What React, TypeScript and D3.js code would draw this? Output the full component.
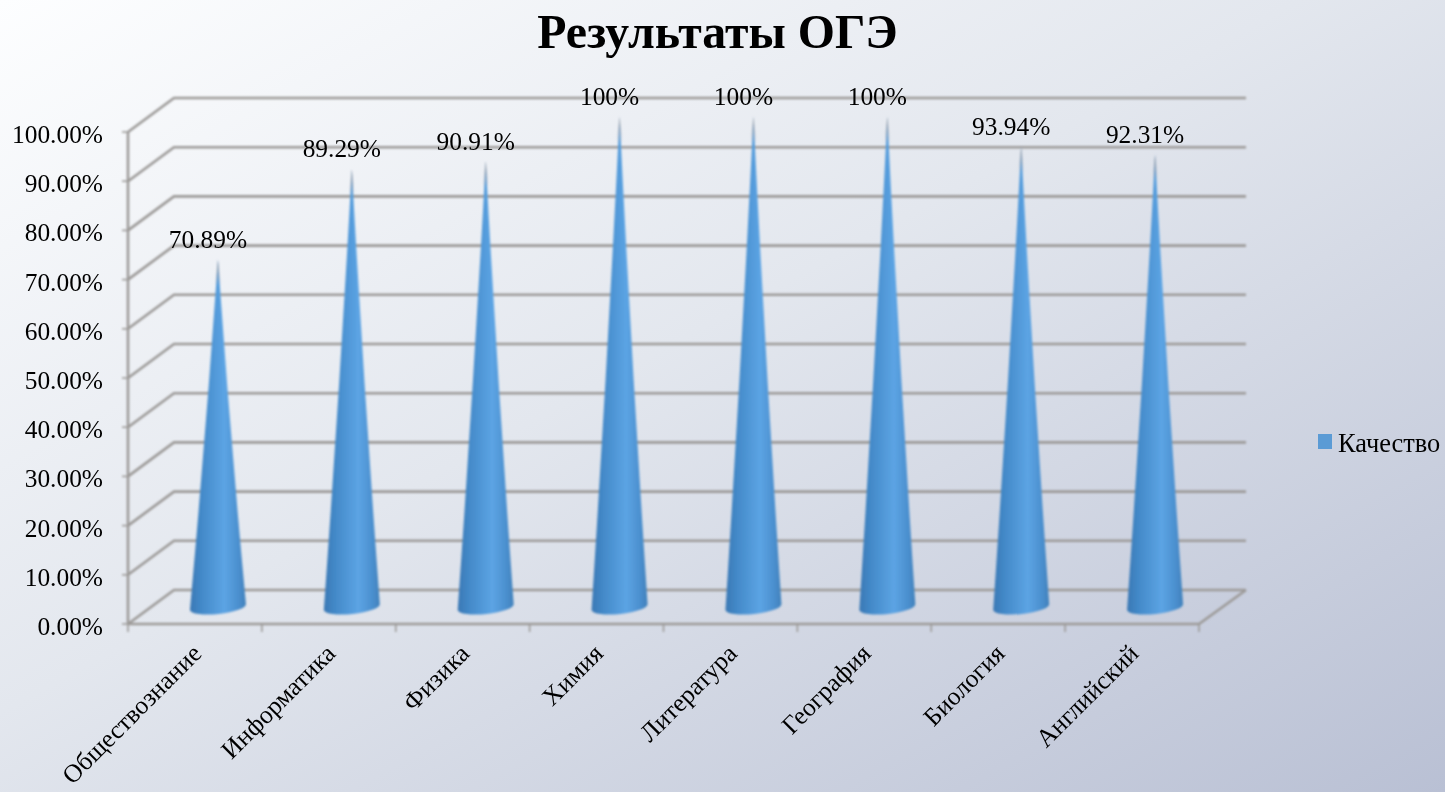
import React from "react";
import * as d3 from "d3";

const categories = ["Обществознание", "Информатика", "Физика", "Химия", "Литература", "География", "Биология", "Английский"];
const values = [70.89, 89.29, 90.91, 100, 100, 100, 93.94, 92.31];
const valueLabels = ["70.89%", "89.29%", "90.91%", "100%", "100%", "100%", "93.94%", "92.31%"];
const yTicks = [0, 10, 20, 30, 40, 50, 60, 70, 80, 90, 100];
const legendName = "Качество";
const chartTitle = "Результаты ОГЭ";

const W = 1445, H = 792;
const FONT = "'Liberation Serif', serif";

export default function App() {
  const x = d3.scaleBand<string>().domain(categories).range([128, 1199]);
  const y = d3.scaleLinear().domain([0, 100]).range([624, 132]);
  const cone = d3.scaleLinear().domain([0, 100]).range([607, 117]);
  const dx = 46, dy = -34;
  const line = d3.line<[number, number]>();
  const band = x.bandwidth();
  const halfW = 28, ry = 7, tilt = 3;

  return (
    <svg width={W} height={H} style={{ position: "fixed", left: 0, top: 0, display: "block" }} fontFamily={FONT}>
      <defs>
        <linearGradient id="bg" x1="0" y1="0" x2="1" y2="1">
          <stop offset="0" stopColor="#fdfeff" />
          <stop offset="0.45" stopColor="#e3e7ee" />
          <stop offset="1" stopColor="#b9c0d4" />
        </linearGradient>
        <linearGradient id="cone" x1="0" y1="0" x2="1" y2="0">
          <stop offset="0" stopColor="#3a78b4" />
          <stop offset="0.2" stopColor="#4389c8" />
          <stop offset="0.62" stopColor="#5ca4e4" />
          <stop offset="0.88" stopColor="#4a8ecd" />
          <stop offset="1" stopColor="#4080ba" />
        </linearGradient>
        <linearGradient id="tip" x1="0" y1="0" x2="0" y2="1">
          <stop offset="0" stopColor="#9a9fa8" />
          <stop offset="1" stopColor="#9a9fa8" stopOpacity="0" />
        </linearGradient>
        <filter id="soft" x="-10%" y="-10%" width="120%" height="120%">
          <feGaussianBlur stdDeviation="0.8" />
        </filter>
        <filter id="textSoft" x="-5%" y="-5%" width="110%" height="110%">
          <feGaussianBlur stdDeviation="0.3" />
        </filter>
      </defs>
      <rect width={W} height={H} fill="url(#bg)" />

      <g fill="none" stroke="#9c9a98" strokeWidth={2.6} filter="url(#soft)">
        {yTicks.map(t => (
          <path key={t} d={line([[128, y(t)], [128 + dx, y(t) + dy], [1246, y(t) + dy]]) ?? ""} />
        ))}
        <path d={line([[128, y(0)], [128, y(100)]]) ?? ""} />
        <path d={line([[128, y(0)], [1199, y(0)], [1246, y(0) + dy]]) ?? ""} />
        {yTicks.map(t => <path key={"t" + t} d={line([[122, y(t)], [128, y(t)]]) ?? ""} strokeWidth={1.6} />)}
        {categories.map(c => <path key={c} d={line([[x(c)!, y(0)], [x(c)!, y(0) + 8]]) ?? ""} strokeWidth={1.6} />)}
        <path d={line([[1199, y(0)], [1199, y(0) + 8]]) ?? ""} strokeWidth={1.6} />
      </g>

      <g filter="url(#soft)">
        {categories.map((c, i) => {
          const cx = x(c)! + band / 2 + 23;
          const base = cone(0);
          const tip = cone(values[i]);
          const h = base - tip;
          const d = `M${cx},${tip} Q${cx + halfW * 0.43},${tip + h * 0.5} ${cx + halfW},${base - tilt} A${halfW},${ry} -6 0 1 ${cx - halfW},${base + tilt} Q${cx - halfW * 0.43},${tip + h * 0.5} ${cx},${tip} Z`;
          const t = `M${cx},${tip} L${cx + 3},${tip + 26} L${cx - 3},${tip + 26} Z`;
          return (
            <g key={c}>
              <path d={d} fill="url(#cone)" />
              <path d={t} fill="url(#tip)" />
            </g>
          );
        })}
      </g>

      <g filter="url(#textSoft)">
        <text x={717.5} y={48} textAnchor="middle" fontSize={47.8} fontWeight="bold" fill="#000">{chartTitle}</text>
        <g fontSize={25.4} fill="#000">
          {yTicks.map(t => (
            <text key={t} x={103} y={y(t) + 11} textAnchor="end">{t.toFixed(2)}%</text>
          ))}
          {categories.map((c, i) => (
            <text key={c} x={x(c)! + band / 2 + 13} y={cone(values[i]) - 12} textAnchor="middle">{valueLabels[i]}</text>
          ))}
        </g>
        <g fontSize={25.6} fill="#000">
          {categories.map(c => (
            <text key={c} textAnchor="end" transform={`translate(${x(c)! + band / 2 + 8},${655}) rotate(-45)`}>{c}</text>
          ))}
        </g>
        <text x={1338} y={452} fontSize={26.4} fill="#000">{legendName}</text>
      </g>
      <rect x={1318} y={434} width={14} height={15} fill="#5b9bd5" />
    </svg>
  );
}
